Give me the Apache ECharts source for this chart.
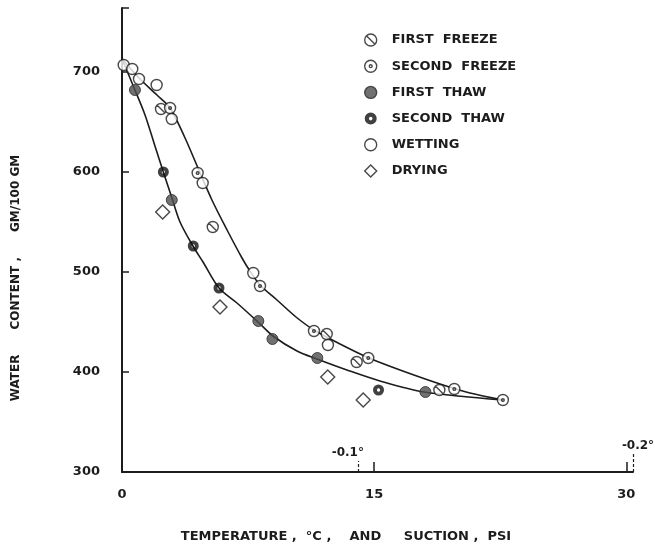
<!DOCTYPE html>
<html>
<head>
<meta charset="utf-8">
<script src="https://cdn.jsdelivr.net/npm/echarts@6/dist/echarts.min.js"></script>
<style>
  html, body { margin: 0; padding: 0; background: #fff; }
  #chart { width: 655px; height: 550px; }
</style>
</head>
<body>
<div id="chart"></div>
<script>
// Measured points: [suction / temperature scale, water content gm/100 gm]
const firstFreeze  = [[2.32, 663], [5.40, 545], [12.18, 438], [13.96, 410], [18.88, 382]];
const secondFreeze = [[2.86, 664], [4.50, 599], [8.21, 486], [11.42, 441], [14.65, 414], [19.77, 383], [22.66, 372]];
const firstThaw    = [[0.77, 682], [2.96, 572], [8.11, 451], [8.95, 433], [11.62, 414], [18.05, 380]];
const secondThaw   = [[2.46, 600], [4.24, 526], [5.77, 484], [15.26, 382]];
const wetting      = [[0.10, 707], [0.61, 703], [1.01, 693], [2.06, 687], [2.96, 653], [4.80, 589], [7.81, 499], [12.25, 427]];
const drying       = [[2.42, 560], [5.83, 465], [12.24, 395], [14.35, 372]];

// Hand-faired curves through the freezing (upper) and thawing (lower) points
const freezeCurve = [[0, 713], [1.07, 693], [2.08, 677], [2.86, 664], [3.75, 634], [4.52, 604], [5.35, 572],
  [6.25, 542], [7.14, 514], [7.61, 501], [8.21, 487], [9.22, 472], [10.35, 455], [11.42, 442], [12.97, 428],
  [14.69, 414], [16.54, 402], [18.92, 388], [20.70, 379], [22.66, 372]];
const thawCurve = [[0, 713], [0.77, 682], [1.37, 657], [1.96, 626], [2.44, 601], [2.97, 574], [3.45, 550],
  [4.22, 526], [4.82, 510], [5.77, 484], [6.84, 469], [8.09, 450], [8.98, 436], [10.41, 421], [11.60, 413],
  [13.38, 402], [15.35, 391], [17.97, 380], [22.66, 372]];

// Axis ticks and the temperature marks above the x axis
const xTickLabels = [0, 15, 30];
const xTicks = [15, 30];
const yTickLabels = [300, 400, 500, 600, 700];
const yTicks = [400, 500, 600, 700, 764];
const tempMarkX = [14.03, 30.4];
const tempMarkText = ['-0.1°', '-0.2°'];

const FONT = 'DejaVu Sans';
const INK = '#1c1c1c';

const RING = 'M0,10 A10,10 0 1,1 20,10 A10,10 0 1,1 0,10 Z';
const SYM_SLASH = 'path://' + RING + ' M3.2,3.2 L16.8,16.8';
const SYM_DOT = 'path://' + RING + ' M7.6,10 A2.4,2.4 0 1,1 12.4,10 A2.4,2.4 0 1,1 7.6,10 Z';
const SYM_HOLE = 'path://' + RING + ' M7,10 A3,3 0 1,0 13,10 A3,3 0 1,0 7,10 Z';

const names = ['FIRST  FREEZE', 'SECOND  FREEZE', 'FIRST  THAW', 'SECOND  THAW', 'WETTING', 'DRYING'];

function curve(data, extra) {
  return Object.assign({
    type: 'line', data: data, smooth: 0.3, symbol: 'none', silent: true,
    lineStyle: { color: INK, width: 1.6 }, z: 1
  }, extra || {});
}

function points(name, data, symbol, size, itemStyle) {
  return { name: name, type: 'scatter', data: data, symbol: symbol, symbolSize: size,
           itemStyle: itemStyle, z: 3 };
}

// dashed temperature ticks: short one at -0.1°, taller one at -0.2°
const tempMarkTop = [311, 318];

const option = {
  animation: false,
  backgroundColor: '#fff',
  grid: { left: 122, right: 22, top: 8, bottom: 78, containLabel: false },
  xAxis: {
    type: 'value', min: 0, max: 30.4,
    axisLine: { lineStyle: { color: INK, width: 2 } },
    axisTick: { inside: true, length: 10, lineStyle: { color: INK, width: 1.5 }, customValues: xTicks },
    axisLabel: { customValues: xTickLabels, margin: 16, color: INK, fontFamily: FONT, fontWeight: 'bold', fontSize: 13 },
    splitLine: { show: false }
  },
  yAxis: {
    type: 'value', min: 300, max: 764,
    axisLine: { lineStyle: { color: INK, width: 2 } },
    axisTick: { inside: true, length: 7, lineStyle: { color: INK, width: 1.5 }, customValues: yTicks },
    axisLabel: { customValues: yTickLabels, margin: 22, color: INK, fontFamily: FONT, fontWeight: 'bold', fontSize: 13 },
    splitLine: { show: false }
  },
  legend: {
    data: names, orient: 'vertical', left: 359, top: 28,
    itemWidth: 12, itemHeight: 12, itemGap: 12.2,
    itemStyle: { borderWidth: 1.4 },
    textStyle: { color: INK, fontFamily: FONT, fontWeight: 'bold', fontSize: 13, lineHeight: 14, padding: [0, 0, 0, 10] },
    selectedMode: false
  },
  graphic: [
    { type: 'text', x: 346, y: 537,
      style: { text: 'TEMPERATURE ,  °C ,    AND     SUCTION ,  PSI', textAlign: 'center', textVerticalAlign: 'middle',
               fill: INK, fontFamily: FONT, fontWeight: 'bold', fontSize: 13 } },
    { type: 'text', x: 16, y: 278, rotation: Math.PI / 2,
      style: { text: 'WATER      CONTENT ,      GM/100 GM', textAlign: 'center', textVerticalAlign: 'middle',
               fill: INK, fontFamily: FONT, fontWeight: 'bold', fontSize: 12 } }
  ],
  series: [
    curve(freezeCurve, {
      markLine: {
        silent: true, symbol: 'none', animation: false,
        lineStyle: { color: INK, width: 1.2, type: [3, 2] },
        label: { show: true, position: 'end', formatter: '{b}', color: INK, fontFamily: FONT, fontWeight: 'bold', fontSize: 12, distance: 2 },
        data: tempMarkX.map((x, i) => [
          { coord: [x, 300], name: tempMarkText[i], label: { padding: i === 0 ? [0, 20, 0, 0] : [0, 0, 0, 10] } },
          { coord: [x, tempMarkTop[i]] }
        ])
      }
    }),
    curve(thawCurve),
    points(names[0], firstFreeze, SYM_SLASH, 11, { color: '#fff', borderColor: INK, borderWidth: 1.4 }),
    points(names[1], secondFreeze, SYM_DOT, 11, { color: '#fff', borderColor: INK, borderWidth: 1.4 }),
    points(names[2], firstThaw, 'circle', 11, { color: '#4d4d4d', borderColor: '#2a2a2a', borderWidth: 1 }),
    points(names[3], secondThaw, SYM_HOLE, 11, { color: '#111', borderWidth: 0 }),
    points(names[4], wetting, 'circle', 11, { color: '#fff', borderColor: INK, borderWidth: 1.4 }),
    points(names[5], drying, 'diamond', 14, { color: '#fff', borderColor: INK, borderWidth: 1.4 })
  ]
};

const chart = echarts.init(document.getElementById('chart'), null, { renderer: 'canvas' });
chart.setOption(option);
</script>
</body>
</html>
